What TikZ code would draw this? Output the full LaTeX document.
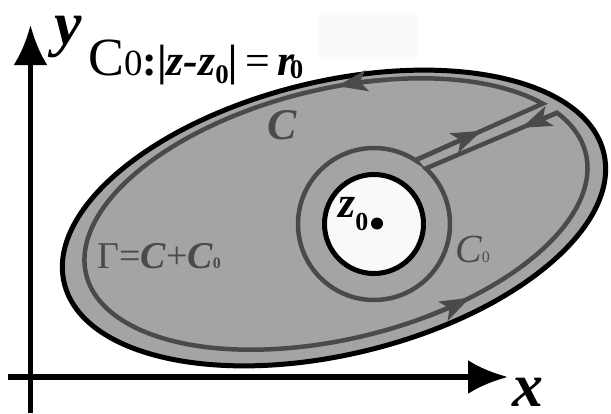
\documentclass[tikz,border=0pt]{standalone}
\usepackage{fontspec}
\setmainfont{Liberation Serif}
\usetikzlibrary{arrows.meta,calc}
\definecolor{fillgray}{HTML}{A4A4A4}
\definecolor{cgray}{HTML}{4A4A4A}
\definecolor{holewhite}{HTML}{F9F9F9}
\definecolor{faint}{HTML}{FAFAFA}
\newcommand{\fs}[1]{\fontsize{#1}{#1}\selectfont}
\begin{document}
\begin{tikzpicture}[x=1bp,y=1bp,
  contour/.style={draw=cgray, line width=4.5bp},
  axisline/.style={line width=5.5bp, -{Latex[length=40bp,width=34bp]}},
  tipc/.style={draw=cgray, line width=4.5bp, -{Stealth[length=30bp,width=21bp,inset=7bp]}},
  lab/.style={inner sep=0pt, text=cgray},
]
\useasboundingbox (0,0) rectangle (611,413);
\fill[faint] (318,356) rectangle (417,400);
% axes
\coordinate (xs) at (8,36);
\coordinate (xe) at (508,36);
\coordinate (ys) at (30.5,0);
\coordinate (ye) at (30.5,388);
\draw[axisline] (xs) -- (xe);
\draw[axisline] (ys) -- (ye);
% outer region
\begin{scope}[shift={(334,195)}, rotate=13.6]
\draw[line width=5bp, fill=fillgray] (0,0) ellipse [x radius=277.5bp, y radius=136.5bp];
\end{scope}
% hole
\coordinate (Z) at (374,189);
\draw[line width=5bp, fill=holewhite] (Z) circle[radius=49.5bp];
\fill (377,189.5) circle[radius=6bp];
\path (Z) ++(57:76bp) coordinate (K1);
\path (Z) ++(47:76bp) coordinate (K2);
% contour Gamma
\begin{scope}[shift={(336,199)}, rotate=13.6]
\coordinate (A) at (28:257bp and 125bp);
\coordinate (B) at (21.8:257bp and 125bp);
\draw[contour] (K1) -- (A) arc[start angle=28, end angle=381.8, x radius=257bp, y radius=125bp] -- (K2) arc[start angle=33.4, end angle=-316.6, radius=76bp] -- cycle;
\draw[tipc] (72:257bp and 125bp) arc[start angle=72, end angle=83, x radius=257bp, y radius=125bp];
\draw[tipc] (284.5:257bp and 125bp) arc[start angle=284.5, end angle=295.5, x radius=257bp, y radius=125bp];
\end{scope}
\draw[tipc] (K1) -- ($(K1)!0.52!(A)$);
\draw[tipc] (B) -- ($(B)!0.27!(K2)$);
% labels
\node[inner sep=0pt, anchor=base] (ylab) at (68,369) {\fs{62}\bfseries\itshape y};
\node[inner sep=0pt, anchor=base] (xlab) at (528,7) {\fs{62}\bfseries\itshape x};
\node[inner sep=0pt, anchor=base west] (eq) at (88,338) {\fs{54}C\fs{37}0\fs{44}\bfseries:|\itshape z-z\raisebox{-8bp}{\fs{27}\upshape 0}|\mdseries\upshape\,=\,\bfseries\itshape r\kern-5bp\raisebox{-3bp}{\fs{27}\upshape 0}};
\node[lab] (clab) at (282,288) {\fs{44}\bfseries\itshape C};
\node[lab, anchor=base west] (glab) at (97,145) {\fs{38}Γ=\textbf{\textit{C}}+\textbf{\textit{C}}\fs{16}\textbf{0}};
\node[lab, anchor=base west] (c0lab) at (455,151) {\fs{40}\itshape C\fs{16}\upshape 0};
\node[inner sep=0pt, anchor=base west] (zlab) at (338,196) {\fs{44}\bfseries\itshape z\raisebox{-13bp}{\fs{26}\upshape 0}};
\end{tikzpicture}
\end{document}
